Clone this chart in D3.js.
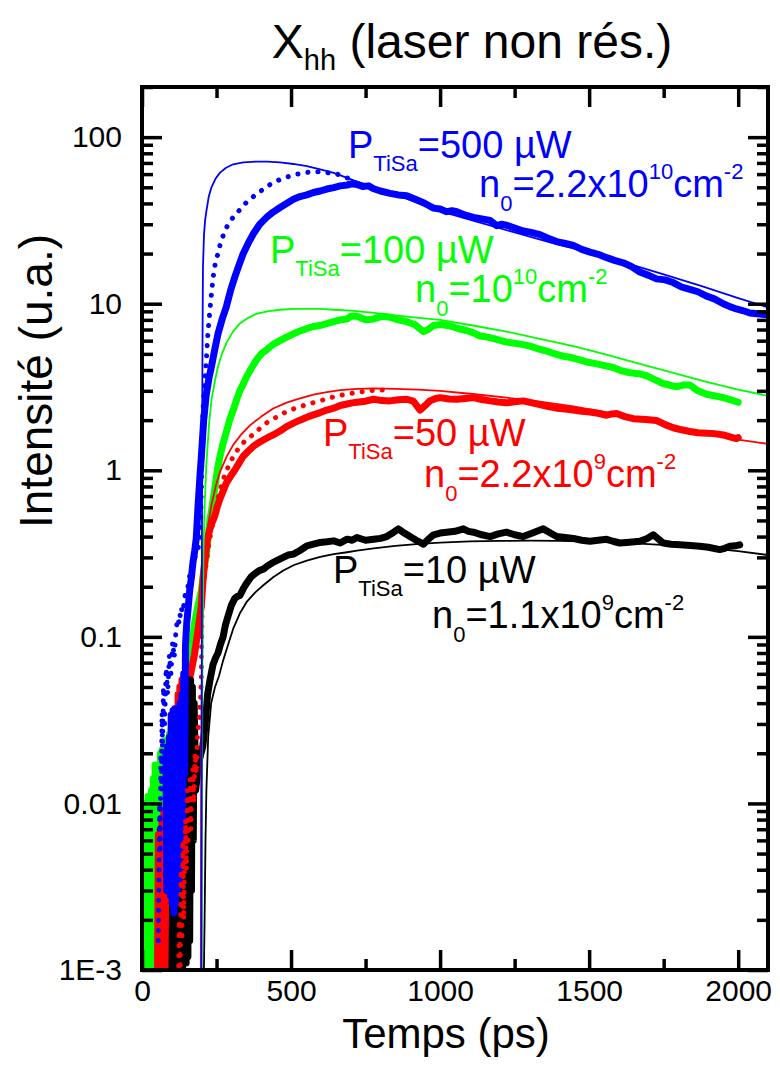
<!DOCTYPE html>
<html><head><meta charset="utf-8">
<script src="https://cdn.jsdelivr.net/npm/d3@7"></script>
<style>
body{margin:0;background:#fff;}
svg{display:block;font-family:"Liberation Sans",Arial,sans-serif;}
</style></head>
<body><svg id="c" width="780" height="1079"></svg>
<script>
// ---------- DATA ----------
const xTicks = [0, 500, 1000, 1500, 2000];
const xMinorTicks = [250, 750, 1250, 1750];
const yTicks = [0.001, 0.01, 0.1, 1, 10, 100];
const yTickLabels = ["1E-3", "0.01", "0.1", "1", "10", "100"];

// Blue: P=500 µW
const blueT = [80,83,86,89,92,95,98,101,104,107,110,113,116,119,122,125,128,131,134,137,140,143,146,150,155,160,166,171,177,182,188,194,199,207,215,225,233,244,255,270,283,297,311,325,339,356,373,395,418,440,463,485,508,530,553,575,598,620,643,665,688,705,721,740,760,777,800,832,860,888,915,944,960,978,1000,1022,1040,1056,1085,1112,1140,1168,1190,1205,1223,1250,1279,1305,1335,1360,1391,1420,1447,1475,1503,1530,1559,1585,1614,1640,1670,1700,1726,1755,1782,1810,1838,1865,1894,1920,1950,1972,1994,2015,2039,2065,2089,2100];
const blueV = [0.02,0.003,0.022,0.003,0.025,0.0028,0.034,0.0025,0.036,0.0022,0.037,0.0025,0.036,0.003,0.037,0.0035,0.04,0.005,0.045,0.008,0.06,0.015,0.09,0.12,0.15,0.19,0.23,0.28,0.33,0.39,0.61,0.9,1.2,2.0,2.8,3.6,4.2,5.3,6.6,8.2,9.6,12,14.4,17,19.9,23,26.2,30,33,35.5,37.8,40,42.4,44,45,46.5,47.5,48.8,49.8,51,51.6,52.5,52,50.5,51,49,47.5,46,45,44.5,42.5,40.4,39,37.5,37,35.7,36.2,35.7,34,33,32.3,31.6,29.4,30,29.6,28.5,27.3,26.8,26,24.8,23.6,23,22.4,21.2,20.4,19.8,18.9,18.2,17.6,16.8,15.5,14.8,14.1,13.9,13.4,12.6,12.2,11.8,11.1,10.7,10.0,9.6,9.3,9.1,8.8,8.7,8.6,8.7];
const blueDotT = [55,57,59,61,63,65,67,69,72,76,81,86,92,97,103,108,114,120,125,131,137,143,148,154,160,165,171,177,183,188,193,197,200,202,204,207,210,213,217,221,225,229,234,240,247,255,263,272,285,300,317,334,350,367,387,407,430,452,475,497,520,542,570,598,626,654,682,710];
const blueDotV = [0.0015,0.004,0.01,0.005,0.02,0.012,0.035,0.02,0.05,0.03,0.065,0.045,0.078,0.06,0.093,0.075,0.11,0.129,0.12,0.15,0.14,0.17,0.194,0.2,0.233,0.25,0.27,0.3,0.32,0.336,0.4,0.5,0.9,1.5,2.2,2.8,3.3,3.8,5,6.6,8,9.6,12,15,18,20,23,25.6,29,32,35,37.5,40.5,43,46,48.7,52,54.6,56.7,58.5,60,61,62,62,61,60,57.5,55];
const blueFitT = [199,200,201,202,203,204.5,208,212,216,224,233,246,261,282,306,340,384,420,463,508,553,598,643,688,710,750,800,860,930,1000,1125,1250,1375,1500,1625,1750,1875,2000,2100];
const blueFitV = [0.0005,0.01,0.3,2,6,16.5,26,32,36,44,50,56,61,65.5,68.7,70.5,71.3,71.3,70.6,69,67,64,61,57,55,52,48.5,44.5,40,36,31,26.8,23.2,20.3,17.5,15.0,12.8,10.8,9.5];

// Green: P=100 µW
const greenT = [2,5,8,11,14,17,20,23,26,29,32,35,38,41,44,47,50,53,56,59,62,65,68,71,74,77,80,83,86,89,92,95,98,101,104,107,110,113,118,124,130,137,145,152,160,168,176,188,199,207,216,227,236,244,252,261,272,283,294,306,317,328,340,351,367,384,400,418,440,463,485,508,530,553,575,598,620,643,665,688,700,721,750,777,805,832,860,888,915,944,960,978,1005,1034,1060,1089,1110,1134,1160,1190,1220,1246,1275,1302,1330,1357,1385,1413,1440,1469,1497,1525,1553,1581,1610,1637,1665,1692,1720,1748,1770,1793,1815,1838,1865,1894,1920,1950,1975,2000];
const greenV = [0.009,0.0008,0.01,0.0008,0.009,0.0009,0.011,0.0008,0.01,0.0008,0.012,0.0008,0.014,0.001,0.017,0.0008,0.016,0.001,0.017,0.0009,0.02,0.001,0.021,0.0012,0.02,0.0015,0.024,0.002,0.022,0.0025,0.026,0.003,0.028,0.004,0.03,0.005,0.032,0.008,0.03,0.036,0.04,0.045,0.05,0.055,0.062,0.09,0.12,0.155,0.19,0.25,0.31,0.49,0.62,0.77,0.98,1.2,1.45,1.7,2.0,2.3,2.64,3.0,3.3,3.65,4.1,4.6,5.0,5.3,5.7,6.0,6.3,6.6,6.85,7.1,7.3,7.4,7.6,7.8,8.0,8.1,8.4,8.4,8.0,8.1,8.4,8.3,8.0,7.8,7.5,6.8,7.0,7.4,7.5,7.35,7.1,6.9,6.7,6.4,6.3,6.1,5.9,5.8,5.7,5.56,5.35,5.2,5.0,4.84,4.75,4.6,4.45,4.35,4.25,4.14,3.95,3.85,3.8,3.7,3.5,3.32,3.25,3.17,3.25,3.25,3.0,2.86,2.8,2.73,2.65,2.56];
const greenFitT = [200,201,202.5,204,206,210,216,225,233,244,255,268,283,305,328,355,384,420,463,510,553,600,643,700,780,850,920,1000,1110,1223,1335,1447,1558,1670,1782,1894,2000,2100];
const greenFitV = [0.001,0.01,0.06,0.15,0.3,0.6,1.1,1.9,2.64,3.4,4.2,5.0,5.8,6.8,7.6,8.2,8.7,9.0,9.2,9.3,9.3,9.3,9.2,9.1,8.8,8.5,8.25,8.0,7.4,6.8,6.15,5.56,4.95,4.35,3.85,3.4,3.05,2.8];

// Red: P=50 µW
const redT = [52,55,58,61,64,67,70,73,76,79,82,85,88,91,94,97,100,103,106,109,112,115,118,121,124,127,130,134,138,142,146,150,154,165,176,188,199,205,210,219,227,236,244,252,261,272,283,297,311,325,339,356,373,390,407,424,440,463,485,508,530,553,575,598,620,643,665,688,705,721,750,777,805,832,860,888,910,933,950,966,985,1000,1030,1056,1085,1112,1140,1168,1195,1223,1250,1279,1305,1335,1360,1391,1420,1447,1475,1503,1530,1559,1575,1592,1620,1648,1690,1726,1755,1782,1810,1838,1865,1894,1920,1950,1975,1994,2000];
const redV = [0.001,0.0065,0.0008,0.007,0.0009,0.008,0.001,0.009,0.0008,0.009,0.001,0.01,0.0009,0.009,0.0012,0.01,0.001,0.012,0.0015,0.02,0.002,0.035,0.003,0.045,0.004,0.05,0.006,0.055,0.01,0.055,0.02,0.05,0.051,0.062,0.078,0.11,0.154,0.22,0.28,0.38,0.44,0.49,0.53,0.6,0.67,0.75,0.84,0.92,1.0,1.1,1.21,1.3,1.39,1.46,1.52,1.58,1.63,1.72,1.83,1.92,2.0,2.08,2.15,2.22,2.3,2.36,2.45,2.5,2.54,2.56,2.6,2.67,2.62,2.61,2.65,2.67,2.6,2.3,2.45,2.61,2.7,2.73,2.68,2.67,2.7,2.73,2.66,2.61,2.57,2.54,2.58,2.61,2.55,2.48,2.42,2.36,2.33,2.30,2.26,2.24,2.2,2.14,2.18,2.19,2.1,2.04,2.02,1.99,1.88,1.80,1.75,1.71,1.68,1.67,1.66,1.63,1.58,1.55,1.57];
const redDotT = [122,125,128,131,134,137,140,143,146,149,152,155,158,161,164,167,170,174,178,182,186,190,194,197,199,200,202,208,216,224,233,241,249,260,272,289,306,322,339,359,379,400,424,450,474,500,530,558,587,615,643,670,699,730,760,800,832];
const redDotV = [0.0008,0.002,0.001,0.004,0.0015,0.006,0.002,0.005,0.008,0.004,0.012,0.006,0.01,0.014,0.007,0.012,0.016,0.01,0.02,0.015,0.025,0.03,0.035,0.045,0.056,0.093,0.16,0.22,0.28,0.36,0.44,0.52,0.61,0.74,0.88,1.05,1.21,1.34,1.46,1.57,1.67,1.82,1.96,2.08,2.2,2.31,2.41,2.5,2.58,2.67,2.76,2.83,2.89,2.95,3.0,3.03,3.05];
const redFitT = [197,198,199,201,203,206,210,215,221,233,247,261,283,306,334,362,400,440,485,530,575,620,665,721,777,850,925,1000,1110,1223,1335,1447,1558,1670,1782,1894,2000,2100];
const redFitV = [0.0005,0.005,0.02,0.06,0.12,0.2,0.31,0.4,0.46,0.62,0.8,0.97,1.2,1.42,1.65,1.86,2.1,2.35,2.55,2.7,2.85,2.95,3.03,3.08,3.1,3.08,3.05,3.0,2.87,2.73,2.58,2.42,2.23,2.04,1.85,1.67,1.53,1.44];

// Black: P=10 µW
const blackT = [100,103,106,109,112,115,118,121,124,127,130,133,136,139,142,145,148,151,154,157,160,163,166,169,172,175,180,186,192,198,204,212,220,228,238,247,255,263,272,280,289,300,311,320,328,340,351,365,379,393,407,423,440,457,474,490,508,530,553,575,598,620,643,665,688,705,721,750,777,800,821,840,860,880,899,920,944,960,978,1000,1022,1050,1078,1095,1112,1140,1168,1195,1223,1250,1279,1310,1346,1370,1391,1420,1447,1475,1503,1530,1559,1580,1603,1635,1670,1695,1715,1730,1748,1775,1804,1840,1871,1900,1938,1955,1972,1990,2005];
const blackV = [0.0008,0.003,0.0009,0.0035,0.001,0.004,0.0009,0.005,0.001,0.0055,0.0012,0.004,0.001,0.006,0.0012,0.01,0.0011,0.03,0.0012,0.05,0.0015,0.055,0.003,0.05,0.006,0.04,0.012,0.015,0.018,0.02,0.022,0.03,0.045,0.055,0.068,0.075,0.08,0.09,0.1,0.118,0.134,0.155,0.17,0.175,0.177,0.195,0.21,0.228,0.24,0.25,0.255,0.268,0.28,0.29,0.30,0.31,0.314,0.33,0.352,0.36,0.369,0.372,0.377,0.366,0.386,0.38,0.395,0.38,0.385,0.39,0.40,0.42,0.445,0.42,0.40,0.38,0.36,0.385,0.41,0.42,0.425,0.43,0.445,0.43,0.425,0.41,0.40,0.415,0.425,0.41,0.40,0.42,0.445,0.42,0.40,0.395,0.39,0.38,0.375,0.38,0.385,0.375,0.366,0.37,0.375,0.39,0.41,0.39,0.366,0.36,0.357,0.353,0.35,0.345,0.334,0.34,0.35,0.352,0.357];
const blackFitT = [207,210,213,216,222,232,245,258,272,289,306,328,351,380,407,440,474,510,553,598,643,688,721,777,850,930,1000,1100,1200,1300,1400,1500,1600,1700,1800,1900,2000,2100];
const blackFitV = [0.0008,0.002,0.006,0.012,0.025,0.04,0.05,0.058,0.072,0.09,0.112,0.138,0.162,0.185,0.204,0.228,0.25,0.27,0.287,0.302,0.314,0.322,0.329,0.34,0.352,0.362,0.368,0.374,0.377,0.378,0.377,0.373,0.368,0.36,0.352,0.341,0.327,0.31];

// ---------- CHART ----------
const svg = d3.select("#c");
const L = 142, R = 768, T = 87, B = 970;
const x = d3.scaleLinear().domain([0, 2100]).range([L, R]);
const y = d3.scaleLog().domain([0.001, 200]).range([B, T]);

svg.append("defs").append("clipPath").attr("id", "clip")
  .append("rect").attr("x", L).attr("y", T).attr("width", R - L).attr("height", B - T);

const plot = svg.append("g").attr("clip-path", "url(#clip)");
const line = d3.line().x(d => x(d[0])).y(d => y(d[1]));
const zip = (a, b) => a.map((t, i) => [t, b[i]]);

function draw(tArr, vArr, color, w, dash) {
  const p = plot.append("path").datum(zip(tArr, vArr))
    .attr("d", line).attr("fill", "none").attr("stroke", color)
    .attr("stroke-width", w).attr("stroke-linejoin", "round").attr("stroke-linecap", "round");
  if (dash) p.attr("stroke-dasharray", dash);
}
const BLUE = "#0000ff", GREEN = "#00ff00", RED = "#ff0000", BLACK = "#000000";
// experimental (thick)
draw(greenT, greenV, GREEN, 7);
draw(redT, redV, RED, 7);
draw(blackT, blackV, BLACK, 7);
draw(blueT, blueV, BLUE, 7);
// dotted
draw(redDotT, redDotV, RED, 5, "0.1 10");
draw(blueDotT, blueDotV, BLUE, 5, "0.1 10");
// fits (thin)
draw(blackFitT, blackFitV, BLACK, 1.8);
draw(redFitT, redFitV, RED, 1.8);
draw(greenFitT, greenFitV, GREEN, 1.8);
draw(blueFitT, blueFitV, BLUE, 1.8);

// ---------- AXES ----------
const yMinor = [];
for (let e = -3; e < 3; e++) for (let m = 2; m <= 9; m++) { const v = m * Math.pow(10, e); if (v <= 200) yMinor.push(v); }

function styleAxis(g) {
  g.select(".domain").remove();
  g.selectAll(".tick line").attr("stroke", "#000").attr("stroke-width", 3.5);
  g.selectAll(".tick text").attr("fill", "#000").attr("font-size", 30)
    .attr("font-family", "'Liberation Sans', Arial, sans-serif");
}
svg.append("g").attr("transform", `translate(0,${B})`)
  .call(d3.axisBottom(x).tickValues(xTicks).tickSize(-20).tickPadding(10).tickFormat(d3.format("d"))).call(styleAxis);
svg.append("g").attr("transform", `translate(0,${B})`)
  .call(d3.axisBottom(x).tickValues(xMinorTicks).tickSize(-11).tickFormat("")).call(styleAxis);
svg.append("g").attr("transform", `translate(0,${T})`)
  .call(d3.axisTop(x).tickValues(xTicks).tickSize(-20).tickFormat("")).call(styleAxis);
svg.append("g").attr("transform", `translate(0,${T})`)
  .call(d3.axisTop(x).tickValues(xMinorTicks).tickSize(-11).tickFormat("")).call(styleAxis);
svg.append("g").attr("transform", `translate(${L},0)`)
  .call(d3.axisLeft(y).tickValues(yTicks).tickSize(-20).tickPadding(20)
    .tickFormat((d, i) => yTickLabels[i])).call(styleAxis);
svg.append("g").attr("transform", `translate(${L},0)`)
  .call(d3.axisLeft(y).tickValues(yMinor).tickSize(-11).tickFormat("")).call(styleAxis);
svg.append("g").attr("transform", `translate(${R},0)`)
  .call(d3.axisRight(y).tickValues(yTicks).tickSize(-20).tickFormat("")).call(styleAxis);
svg.append("g").attr("transform", `translate(${R},0)`)
  .call(d3.axisRight(y).tickValues(yMinor).tickSize(-11).tickFormat("")).call(styleAxis);

// frame
svg.append("rect").attr("x", L).attr("y", T).attr("width", R - L).attr("height", B - T)
  .attr("fill", "none").attr("stroke", "#000").attr("stroke-width", 4);

// ---------- TEXT ----------
const title = svg.append("text").attr("x", 472).attr("y", 58).attr("text-anchor", "middle")
  .attr("font-size", 48).attr("fill", "#000");
title.append("tspan").text("X");
title.append("tspan").attr("font-size", 29).attr("dy", 12).text("hh");
title.append("tspan").attr("dy", -12).text(" (laser non rés.)");

svg.append("text").attr("x", 446).attr("y", 1048).attr("text-anchor", "middle")
  .attr("font-size", 42).attr("fill", "#000").text("Temps (ps)");
svg.append("text").attr("transform", "translate(52,381) rotate(-90)").attr("text-anchor", "middle")
  .attr("font-size", 46).attr("fill", "#000").text("Intensité (u.a.)");

const FS = 38, SS = 22;
function pLabel(px, py, power, color) {
  const t = svg.append("text").attr("x", px).attr("y", py).attr("font-size", FS).attr("fill", color);
  t.append("tspan").text("P");
  t.append("tspan").attr("font-size", SS).attr("dy", 13).text("TiSa");
  t.append("tspan").attr("dy", -13).text("=" + power + " µW");
}
function nLabel(px, py, mant, exp, color) {
  const t = svg.append("text").attr("x", px).attr("y", py).attr("font-size", FS).attr("fill", color);
  t.append("tspan").text("n");
  t.append("tspan").attr("font-size", SS).attr("dy", 14).text("0");
  t.append("tspan").attr("dy", -14).text("=" + mant);
  t.append("tspan").attr("font-size", SS).attr("dy", -18).text(exp);
  t.append("tspan").attr("dy", 18).text("cm");
  t.append("tspan").attr("font-size", SS).attr("dy", -18).text("-2");
}
pLabel(348, 158, "500", BLUE);
nLabel(479, 197, "2.2x10", "10", BLUE);
pLabel(270, 263, "100", GREEN);
nLabel(415, 302, "10", "10", GREEN);
pLabel(323, 446, "50", RED);
nLabel(424, 487, "2.2x10", "9", RED);
pLabel(333, 583, "10", BLACK);
nLabel(432, 628, "1.1x10", "9", BLACK);
</script></body></html>
